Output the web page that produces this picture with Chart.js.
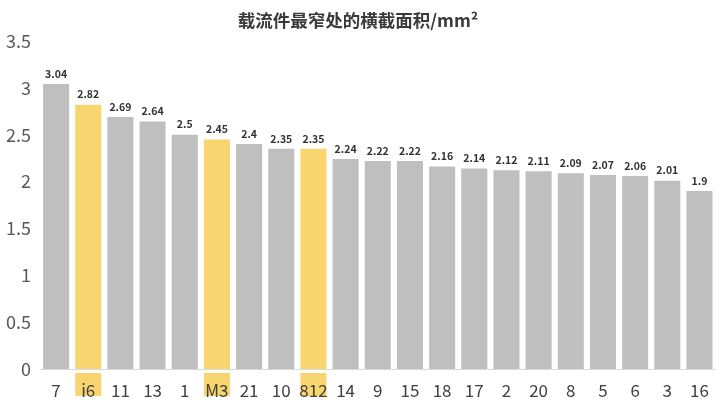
<!DOCTYPE html>
<html><head><meta charset="utf-8">
<script src="https://cdn.jsdelivr.net/npm/chart.js@4/dist/chart.umd.min.js"></script>
<style>html,body{margin:0;padding:0;background:#fff;}#wrap{width:720px;height:405px;}</style>
</head><body><div id="wrap"><canvas id="c"></canvas></div>
<script>
const categories = ['7','i6','11','13','1','M3','21','10','812','14','9','15','18','17','2','20','8','5','6','3','16'];
const values = [3.04,2.82,2.69,2.64,2.5,2.45,2.4,2.35,2.35,2.24,2.22,2.22,2.16,2.14,2.12,2.11,2.09,2.07,2.06,2.01,1.9];
const highlighted = ['i6','M3','812'];
const titleText = '载流件最窄处的横截面积/mm²';
const GRAY = '#BFBFBF', YELLOW = '#F8D56E';
const FONT = "'Noto Sans CJK SC','Noto Sans',sans-serif";

const decor = {
  id: 'decor',
  beforeDraw(chart) {
    const ctx = chart.ctx, xs = chart.scales.x;
    ctx.save();
    ctx.fillStyle = YELLOW;
    categories.forEach((c, i) => {
      if (highlighted.includes(c)) {
        const x = xs.getPixelForValue(i);
        ctx.fillRect(x - 13, chart.chartArea.bottom + 4, 26, 23);
      }
    });
    ctx.restore();
  },
  afterDatasetsDraw(chart) {
    const ctx = chart.ctx, meta = chart.getDatasetMeta(0);
    ctx.save();
    ctx.font = "bold 10.5px " + FONT;
    ctx.fillStyle = '#333333';
    ctx.textAlign = 'center';
    ctx.textBaseline = 'bottom';
    meta.data.forEach((bar, i) => {
      ctx.fillText(String(values[i]), bar.x, bar.y - 5);
    });
    ctx.restore();
  }
};

new Chart(document.getElementById('c'), {
  type: 'bar',
  data: {
    labels: categories,
    datasets: [{
      data: values,
      backgroundColor: categories.map(c => highlighted.includes(c) ? YELLOW : GRAY),
      barPercentage: 0.81,
      categoryPercentage: 1.0
    }]
  },
  options: {
    responsive: true,
    maintainAspectRatio: false,
    animation: false,
    layout: { padding: { top: 4, right: 4, left: 0, bottom: 0 } },
    plugins: {
      legend: { display: false },
      tooltip: { enabled: false },
      title: {
        display: true,
        text: titleText,
        color: '#3A3A3A',
        font: { family: FONT, size: 17.5, weight: 'bold' },
        padding: { top: 6, bottom: 10 }
      }
    },
    scales: {
      x: {
        grid: { display: false, drawTicks: false },
        border: { display: true, color: '#D9D9D9', width: 1 },
        ticks: { color: '#404040', font: { family: FONT, size: 17 }, maxRotation: 0, autoSkip: false, padding: 11 },
        afterFit(s) { s.height = 36; }
      },
      y: {
        min: 0, max: 3.5,
        grid: { display: false, drawTicks: false },
        border: { display: false },
        ticks: {
          stepSize: 0.5, color: '#595959', font: { family: FONT, size: 18 }, padding: 9,
          callback: v => String(Number(v))
        },
        afterFit(s) { s.width = 40; }
      }
    }
  },
  plugins: [decor]
});
</script></body></html>
